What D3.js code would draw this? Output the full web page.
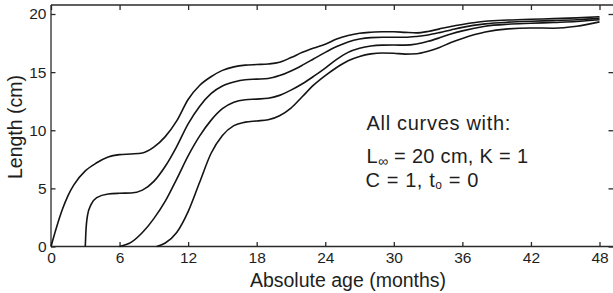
<!DOCTYPE html>
<html>
<head>
<meta charset="utf-8">
<script src="https://cdn.jsdelivr.net/npm/d3@7"></script>
<style>
  html, body { margin: 0; padding: 0; background: #fff; }
  svg { display: block; font-family: "Liberation Sans", Arial, Helvetica, sans-serif; }
  .axis path, .axis line { stroke: #2a2a2a; stroke-width: 1.3; }
  .axis text { fill: #1e1e1e; font-size: 15.5px; font-family: "Liberation Sans", Arial, sans-serif; }
  .curve { fill: none; stroke: #141414; stroke-width: 1.6; }
</style>
</head>
<body>
<svg id="chart" width="613" height="293"></svg>
<script>
// growth curves: age in months, length in cm
const age1 = [0, 0.5, 1, 1.5, 2, 3, 4, 5, 6, 7, 8, 9, 10, 11, 12, 13, 14, 15, 16, 17, 18, 19, 20, 21, 22, 23, 24, 25, 26, 27, 28, 29, 30, 31, 32, 33, 34, 35, 36, 38, 40, 42, 44, 46, 48];
const len1 = [0, 1.7, 3.2, 4.4, 5.3, 6.5, 7.2, 7.7, 7.9, 7.96, 8.05, 8.55, 9.45, 10.8, 12.65, 13.85, 14.6, 15.15, 15.45, 15.6, 15.65, 15.7, 15.85, 16.25, 16.7, 17.07, 17.4, 17.85, 18.15, 18.35, 18.43, 18.47, 18.47, 18.42, 18.38, 18.5, 18.72, 18.93, 19.1, 19.37, 19.48, 19.55, 19.6, 19.67, 19.77];

const age2 = [3, 3.05, 3.2, 3.5, 4, 5, 6, 7, 8, 9, 10, 11, 12, 13, 14, 15, 16, 17, 18, 19, 20, 21, 22, 23, 24, 25, 26, 27, 28, 29, 30, 31, 32, 33, 34, 35, 36, 38, 40, 42, 44, 46, 48];
const len2 = [0, 1.2, 2.7, 3.6, 4.2, 4.52, 4.58, 4.6, 4.85, 5.6, 6.9, 8.6, 10.55, 12.05, 13.15, 13.8, 14.15, 14.35, 14.4, 14.45, 14.7, 15.1, 15.6, 16.15, 16.7, 17.2, 17.6, 17.85, 17.97, 18.0, 18.0, 18.0, 18.07, 18.2, 18.4, 18.63, 18.85, 19.15, 19.3, 19.38, 19.43, 19.5, 19.62];

const age3 = [6, 7, 8, 9, 10, 11, 12, 13, 14, 15, 16, 17, 18, 19, 20, 21, 22, 23, 24, 25, 26, 27, 28, 29, 30, 31, 32, 33, 34, 35, 36, 38, 40, 42, 44, 46, 48];
const len3 = [0, 0.35, 1.2, 2.4, 3.9, 5.8, 7.8, 9.5, 10.85, 11.85, 12.4, 12.62, 12.68, 12.75, 13.0, 13.45, 14.0, 14.65, 15.35, 16.1, 16.7, 17.05, 17.25, 17.32, 17.33, 17.32, 17.42, 17.65, 17.95, 18.28, 18.55, 18.95, 19.12, 19.2, 19.27, 19.35, 19.5];

const age4 = [9.25, 10, 11, 12, 13, 14, 15, 16, 17, 18, 19, 20, 21, 22, 23, 24, 25, 26, 27, 28, 29, 30, 31, 32, 33, 34, 35, 36, 38, 40, 42, 44, 46, 48];
const len4 = [0, 0.3, 1.2, 3.0, 5.5, 8.0, 9.55, 10.4, 10.7, 10.8, 10.9, 11.25, 11.9, 12.9, 13.9, 14.7, 15.4, 15.98, 16.35, 16.57, 16.65, 16.62, 16.55, 16.58, 16.8, 17.12, 17.55, 17.9, 18.45, 18.72, 18.8, 18.78, 18.95, 19.32];

const xTicks = [0, 6, 12, 18, 24, 30, 36, 42, 48];
const yTicks = [0, 5, 10, 15, 20];

const svg = d3.select('#chart');
const frameLeft = 51, frameRight = 613, frameTop = 5, frameBottom = 246.5;

const x = d3.scaleLinear().domain([0, 48]).range([frameLeft, 599.5]);
const y = d3.scaleLinear().domain([0, 20]).range([frameBottom, 14]);

// frame: bottom axis with labels, top and right ticks only
svg.append('g')
    .attr('class', 'axis')
    .attr('transform', `translate(0,${frameBottom})`)
    .call(d3.axisBottom(x).tickValues(xTicks).tickSizeInner(-4.5).tickSizeOuter(0).tickPadding(5))
    .call((g) => g.select('.domain').attr('d', `M${frameLeft},0H${frameRight}`));

svg.append('g')
    .attr('class', 'axis')
    .attr('transform', `translate(0,${frameTop})`)
    .call(d3.axisTop(x).tickValues(xTicks).tickSizeInner(-5).tickSizeOuter(0).tickFormat(''))
    .call((g) => g.select('.domain').attr('d', `M${frameLeft},0H${frameRight}`));

svg.append('g')
    .attr('class', 'axis')
    .attr('transform', `translate(${frameLeft},0)`)
    .call(d3.axisLeft(y).tickValues(yTicks).tickSizeInner(-4.5).tickSizeOuter(0).tickPadding(4.5))
    .call((g) => g.select('.domain').attr('d', `M0,${frameTop}V${frameBottom}`));

svg.append('g')
    .attr('class', 'axis')
    .attr('transform', `translate(${frameRight},0)`)
    .call(d3.axisRight(y).tickValues(yTicks).tickSizeInner(-4.5).tickSizeOuter(0).tickFormat(''))
    .call((g) => g.select('.domain').remove());

// curves
const line = d3.line()
    .x((d) => x(d[0]))
    .y((d) => y(d[1]))
    .curve(d3.curveMonotoneX);

[[age1, len1], [age2, len2], [age3, len3], [age4, len4]].forEach(([ages, lens]) => {
    svg.append('path')
        .attr('class', 'curve')
        .attr('d', line(d3.zip(ages, lens)));
});

// axis titles
svg.append('text')
    .attr('x', 348)
    .attr('y', 286.5)
    .attr('text-anchor', 'middle')
    .attr('font-size', '19.5px')
    .attr('fill', '#1e1e1e')
    .text('Absolute age (months)');

svg.append('text')
    .attr('transform', 'translate(21.5,127) rotate(-90)')
    .attr('text-anchor', 'middle')
    .attr('font-size', '19.5px')
    .attr('fill', '#1e1e1e')
    .text('Length (cm)');

// note
const note = svg.append('g')
    .attr('font-size', '20px')
    .attr('fill', '#1e1e1e');

note.append('text')
    .attr('x', 366.5)
    .attr('y', 129.5)
    .attr('letter-spacing', '0.7px')
    .text('All curves with:');

const l2 = note.append('text')
    .attr('x', 366.5)
    .attr('y', 163)
    .attr('letter-spacing', '0.3px');
l2.append('tspan').text('L');
l2.append('tspan').attr('font-size', '14px').attr('dy', 3).text('\u221e');
l2.append('tspan').attr('dy', -3).text(' = 20 cm, K = 1');

const l3 = note.append('text')
    .attr('x', 365.5)
    .attr('y', 187)
    .attr('letter-spacing', '0.6px');
l3.append('tspan').text('C = 1, t');
l3.append('tspan').attr('font-size', '12px').attr('dy', 2).text('o');
l3.append('tspan').attr('dy', -2).text(' = 0');
</script>
</body>
</html>
